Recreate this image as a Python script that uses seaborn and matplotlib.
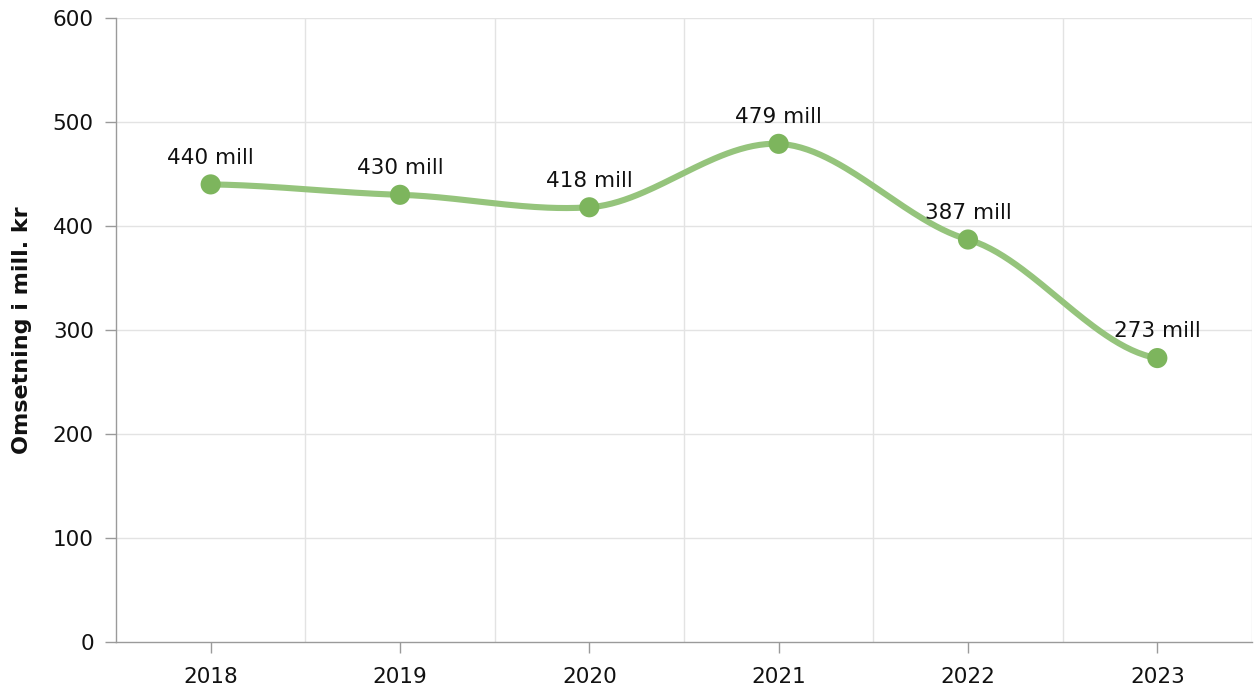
import numpy as np
import pandas as pd
import matplotlib
matplotlib.use("Agg")
import matplotlib.pyplot as plt
import seaborn as sns

# chart data
years = ["2018", "2019", "2020", "2021", "2022", "2023"]
revenue = [440, 430, 418, 479, 387, 273]
labels = [f"{v} mill" for v in revenue]


def smooth_curve(ys, tension=0.5, steps=60):
    """Cardinal spline through the points (end points duplicated)."""
    ys = np.asarray(ys, dtype=float)
    n = len(ys)
    padded = np.concatenate([[ys[0]], ys, [ys[-1]]])
    tang = (1 - tension) * (padded[2:] - padded[:-2]) / 2
    t = np.linspace(0, 1, steps)
    h00 = 2 * t**3 - 3 * t**2 + 1
    h10 = t**3 - 2 * t**2 + t
    h01 = -2 * t**3 + 3 * t**2
    h11 = t**3 - t**2
    cx, cy = [], []
    for i in range(n - 1):
        cx.extend(i + t)
        cy.extend(h00 * ys[i] + h10 * tang[i] + h01 * ys[i + 1] + h11 * tang[i + 1])
    return np.array(cx), np.array(cy)


sns.set_style("white")
plt.rcParams['font.family'] = ['DejaVu Sans']

fig = plt.figure(figsize=(12.55, 6.91), dpi=100)
ax = fig.add_axes([116 / 1255, 1 - 642 / 691, (1252 - 116) / 1255, (642 - 18) / 691])

xpos = np.arange(len(years))
curve_x, curve_y = smooth_curve(revenue)
curve = pd.DataFrame({"x": curve_x, "y": curve_y})
points = pd.DataFrame({"x": xpos, "y": revenue})

sns.lineplot(data=curve, x="x", y="y", ax=ax, color="#95c47c", linewidth=4.4,
             sort=False, estimator=None, zorder=3)
sns.scatterplot(data=points, x="x", y="y", ax=ax, color="#7db55d", s=210,
                edgecolor="none", zorder=4)

for x, v, lab in zip(xpos, revenue, labels):
    ax.annotate(lab, (x, v), xytext=(0, 12), textcoords="offset points",
                ha="center", va="bottom", fontsize=15.5, color="#111111", zorder=5)

ax.set_xlim(-0.5, len(years) - 0.5)
ax.set_ylim(0, 600)
ax.set_yticks(range(0, 601, 100))
ax.set_xticks(xpos)
ax.set_xticklabels(years)

# horizontal grid at y ticks, vertical grid between categories
for yv in range(100, 601, 100):
    ax.axhline(yv, color="#e3e3e3", linewidth=1, zorder=0)
for xb in np.arange(0.5, len(years), 1.0):
    ax.axvline(xb, color="#e3e3e3", linewidth=1, zorder=0)

for side in ["top", "right"]:
    ax.spines[side].set_visible(False)
ax.spines["left"].set_color("#9a9a9a")
ax.spines["bottom"].set_color("#9a9a9a")
ax.spines["left"].set_linewidth(1)
ax.spines["bottom"].set_linewidth(1)

ax.tick_params(axis="both", which="major", labelsize=15.5, colors="#9a9a9a",
               labelcolor="#111111", length=8, width=1, direction="out", left=True, bottom=True)
ax.tick_params(axis="x", pad=10)
ax.tick_params(axis="y", pad=8)

ax.set_xlabel("")
ax.set_ylabel("Omsetning i mill. kr", fontsize=16, fontweight="bold", color="#111111", labelpad=15)

fig.savefig("out.png", dpi=100)
